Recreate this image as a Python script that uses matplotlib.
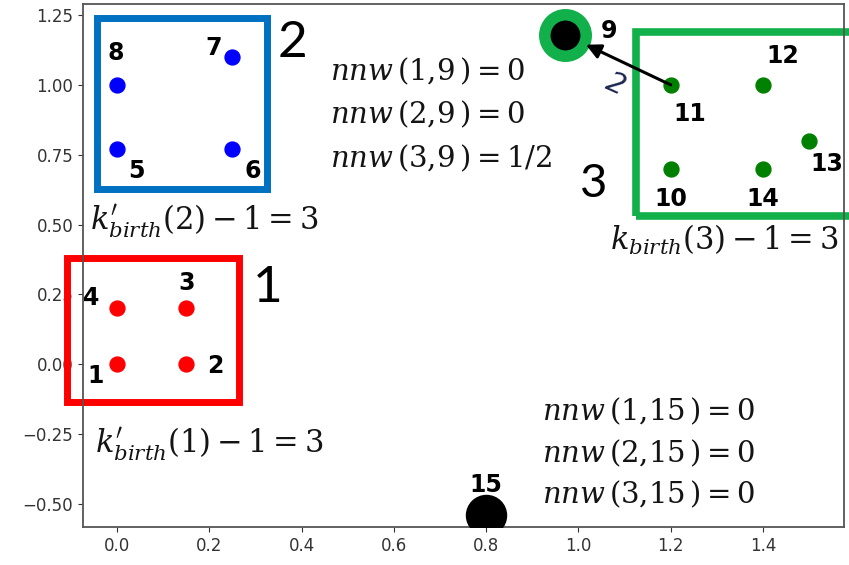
import matplotlib.pyplot as plt
from matplotlib.patches import Rectangle

plt.rcParams['mathtext.fontset'] = 'dejavuserif'

# cluster 1 (red)
c1_ids = ['1', '2', '3', '4']
c1_x = [0.0, 0.15, 0.15, 0.0]
c1_y = [0.0, 0.0, 0.2, 0.2]

# cluster 2 (blue)
c2_ids = ['5', '6', '7', '8']
c2_x = [0.0, 0.25, 0.25, 0.0]
c2_y = [0.77, 0.77, 1.1, 1.0]

# cluster 3 (green)
c3_ids = ['10', '11', '12', '13', '14']
c3_x = [1.2, 1.2, 1.4, 1.5, 1.4]
c3_y = [0.7, 1.0, 1.0, 0.8, 0.7]

# the two isolated points
p9 = (0.97, 1.18)
p15 = (0.8, -0.54)

# label offsets in pixels (dx, dy) from each point
label_offsets = {
    '1': (-21, -12), '2': (29, -2), '3': (0, 25), '4': (-26, 10),
    '5': (19, -22), '6': (20, -22), '7': (-19, 9), '8': (-1, 32),
    '9': (44, 4), '10': (0, -30), '11': (19, -29), '12': (20, 29),
    '13': (18, -23), '14': (0, -30), '15': (0, 30),
}

nnw9 = [r'$nnw\,(1{,}9\,){=}0$', r'$nnw\,(2{,}9\,){=}0$', r'$nnw\,(3{,}9\,){=}1/2$']
nnw15 = [r'$nnw\,(1{,}15\,){=}0$', r'$nnw\,(2{,}15\,){=}0$', r'$nnw\,(3{,}15\,){=}0$']
kbirth = [r"$k^{\prime}_{birth}(1)-1{=}3$", r"$k^{\prime}_{birth}(2)-1{=}3$",
          r"$k_{birth}(3)-1{=}3$"]


fig = plt.figure(figsize=(8.49, 5.65), dpi=100)
ax = fig.add_axes([0.0978, 0.0673, 0.8963, 0.9257])

ax.scatter(c1_x, c1_y, s=115, color='red', zorder=3)
ax.scatter(c2_x, c2_y, s=115, color='blue', zorder=3)
ax.scatter(c3_x, c3_y, s=115, color='green', zorder=3)
ax.scatter([p9[0]], [p9[1]], s=890, color='black', edgecolors='#12b04b',
           linewidths=8.3, zorder=4)
ax.scatter([p15[0]], [p15[1]], s=830, color='black', zorder=4)

pts = {}
for ids, xs, ys in [(c1_ids, c1_x, c1_y), (c2_ids, c2_x, c2_y), (c3_ids, c3_x, c3_y)]:
    for i, x, y in zip(ids, xs, ys):
        pts[i] = (x, y)
pts['9'] = p9
pts['15'] = p15

for name, (x, y) in pts.items():
    ax.annotate(name, (x, y), xytext=label_offsets[name], textcoords='offset pixels',
                ha='center', va='center', fontsize=17, fontweight='bold', zorder=5)

# arrow from 11 to 9
ax.annotate('', xy=p9, xytext=pts['11'],
            arrowprops=dict(arrowstyle='-|>', color='black', lw=2.2,
                            mutation_scale=22, shrinkA=0, shrinkB=17), zorder=5)
ax.text(1.08, 1.0, '2', fontsize=21, style='italic', color='#1c2650',
        rotation=-24, ha='center', va='center')

# cluster boxes
ax.add_patch(Rectangle((-0.1095, -0.1367), 0.3731, 0.5154, fill=False,
                       edgecolor='#ff0000', lw=5.0, clip_on=False, zorder=2))
ax.add_patch(Rectangle((-0.0445, 0.6256), 0.3699, 0.6121, fill=False,
                       edgecolor='#0070c0', lw=5.0, clip_on=False, zorder=2))
ax.add_patch(Rectangle((1.1258, 0.529), 0.6, 0.6585, fill=False,
                       edgecolor='#12b04b', lw=5.5, clip_on=False, zorder=2))

# cluster numbers
ax.text(0.295, 0.223, '1', fontsize=37, family='Lato', va='baseline')
ax.text(0.349, 1.0998, '2', fontsize=37, family='Lato', va='baseline')
ax.text(1.004, 0.5986, '3', fontsize=34, family='Lato', va='baseline')

# formulas
for s, y in zip(nnw9, [1.0175, 0.8637, 0.7062]):
    ax.text(0.462, y, s, fontsize=21, color='#141414', va='baseline', ha='left')
for s, y in zip(nnw15, [-0.2001, -0.3504, -0.4971]):
    ax.text(0.922, y, s, fontsize=21, color='#141414', va='baseline', ha='left')
for s, (x, y) in zip(kbirth, [(-0.0477, -0.3175), (-0.0586, 0.4807), (1.069, 0.409)]):
    ax.text(x, y, s, fontsize=22, color='#141414', va='baseline', ha='left')

ax.set_xlim(-0.0737, 1.5757)
ax.set_ylim(-0.5823, 1.2896)
ax.set_xticks([0.0, 0.2, 0.4, 0.6, 0.8, 1.0, 1.2, 1.4])
ax.set_yticks([-0.5, -0.25, 0.0, 0.25, 0.5, 0.75, 1.0, 1.25])
ax.tick_params(labelsize=12, colors='#333333')
for sp in ax.spines.values():
    sp.set_color('#555555')
    sp.set_linewidth(1.3)

plt.savefig('out.png', dpi=100)
